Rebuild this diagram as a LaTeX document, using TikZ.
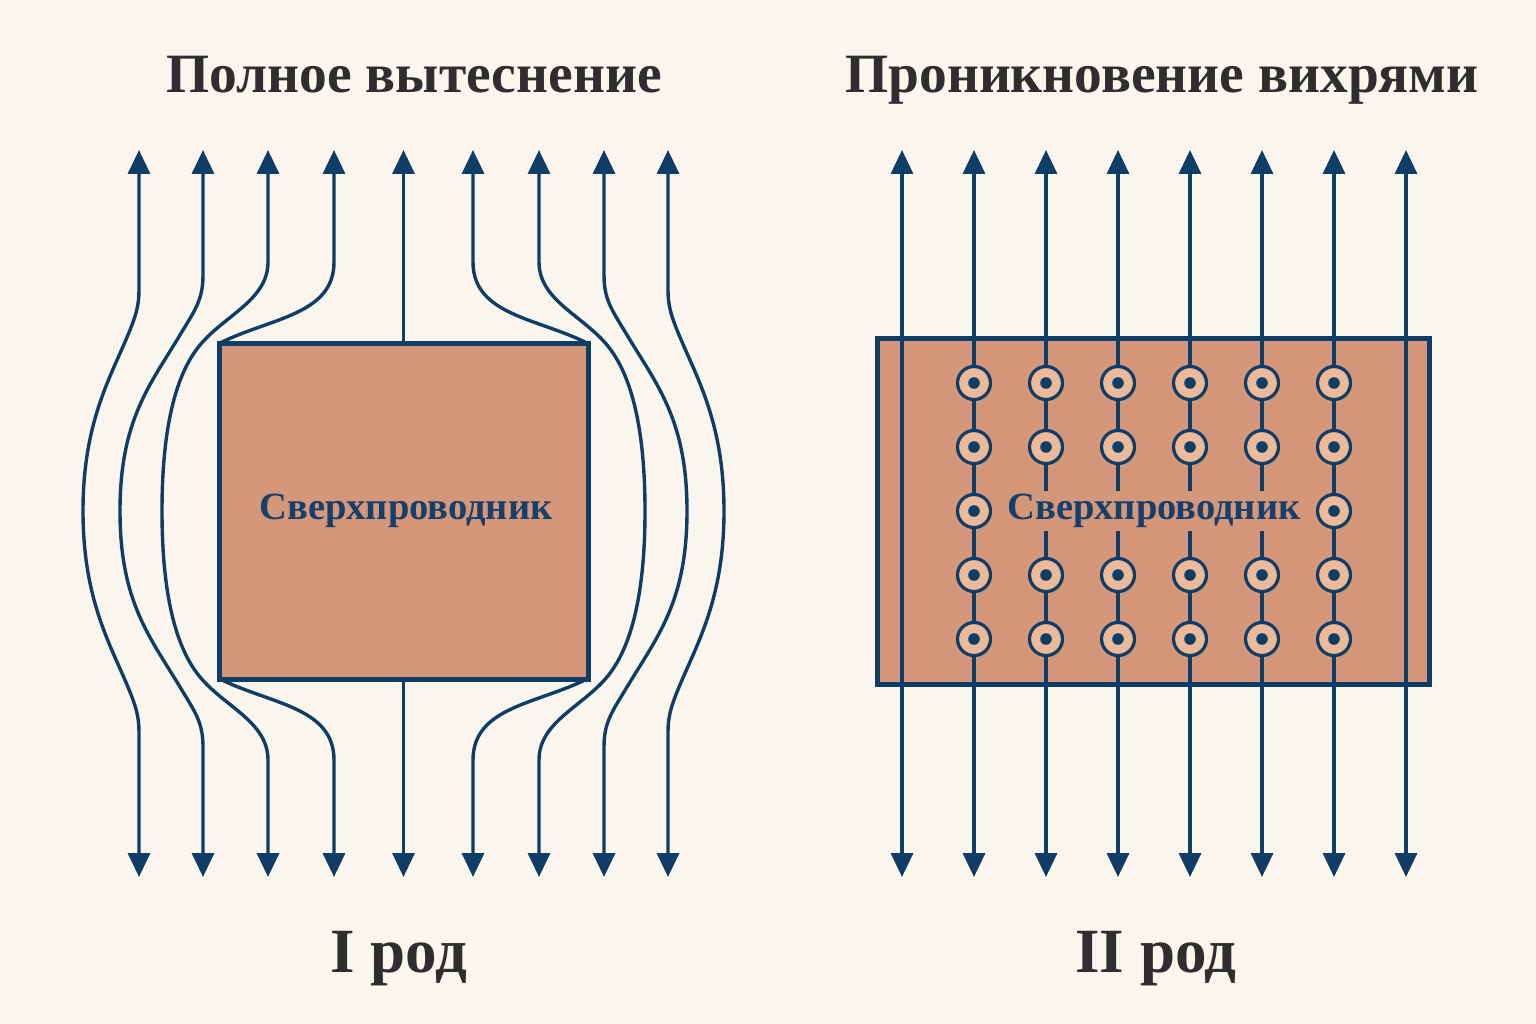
\documentclass[tikz,border=0pt]{standalone}
\usepackage{fontspec}
\setmainfont{Liberation Serif}
\usetikzlibrary{arrows.meta}
\definecolor{bg}{HTML}{FAF6EE}
\definecolor{navy}{HTML}{0F3D66}
\definecolor{scfill}{HTML}{D4977A}
\definecolor{vfill}{HTML}{EBB998}
\definecolor{titlec}{HTML}{2E2E2E}
\definecolor{labelc}{HTML}{173F6B}
\begin{document}
\begin{tikzpicture}[x=1pt,y=-1pt,
  tip/.tip={Triangle[width=22pt,length=24pt]},
  fieldline/.style={draw=navy,line width=3.4pt,tip-tip},
  upline/.style={draw=navy,line width=3.4pt,tip-},
  downline/.style={draw=navy,line width=3.4pt,-tip},
  scbox/.style={draw=navy,fill=scfill,line width=5pt,inner sep=0pt},
  sclabel/.style={text=labelc,font=\bfseries\fontsize{38.5}{42}\selectfont,inner sep=3pt},
  titletext/.style={text=titlec,font=\bfseries\fontsize{55.5}{60}\selectfont,anchor=base,inner sep=0pt},
  rodtext/.style={text=titlec,font=\bfseries\fontsize{63}{66}\selectfont,anchor=base,inner sep=0pt},
  vortex/.style={circle,draw=navy,line width=3.2pt,fill=vfill,minimum size=33pt,inner sep=0pt,
    path picture={\fill[navy] (path picture bounding box.center) circle (5.8pt);}}
]
\fill[bg] (0,0) rectangle (1536,1024);
\useasboundingbox (0,0) rectangle (1536,1024);

% ---------- Titles ----------
\node[titletext] (t1) at (414,93) {Полное вытеснение};
\node[titletext] (t2) at (1162,93) {Проникновение вихрями};
\node[rodtext] (r1) at (399,972) {I род};
\node[rodtext] (r2) at (1156,972) {II род};

% ---------- Type I: field lines (left half, mirrored for right half) ----------
\foreach \sh/\xs in {0/1, 807/-1}{
\begin{scope}[shift={(\sh,0)},xscale=\xs]
\draw[fieldline] (139,150) -- (139,290) .. controls (139,305) and (136,315) .. (130,330)
  .. controls (112,375) and (83,420) .. (83,511)
  .. controls (83,602) and (112,647) .. (130,692)
  .. controls (136,707) and (139,717) .. (139,732) -- (139,877);
\draw[fieldline] (203,150) -- (203,275) .. controls (203,300) and (195,310) .. (180,335)
  .. controls (150,385) and (120,420) .. (120,511)
  .. controls (120,602) and (150,637) .. (180,687)
  .. controls (195,712) and (203,722) .. (203,747) -- (203,877);
\draw[fieldline] (268,150) -- (268,262) .. controls (268,300) and (225,315) .. (200,345)
  .. controls (175,375) and (162,430) .. (162,511)
  .. controls (162,592) and (175,647) .. (200,677)
  .. controls (225,707) and (268,722) .. (268,760) -- (268,877);
\draw[fieldline] (334,150) -- (334,262) .. controls (334,315) and (270,318) .. (220,343)
  -- (220,679) .. controls (270,704) and (334,707) .. (334,760) -- (334,877);
\end{scope}
}
\node[scbox,minimum width=369pt,minimum height=336pt] (sc1) at (403.5,511) {};
\coordinate (top1) at (403.5,150);
\coordinate (bot1) at (403.5,877);
\draw[upline] (top1) -- (sc1.north);
\draw[downline] (sc1.south) -- (bot1);
\node[sclabel] (lab1) at (406,511) {Сверхпроводник};

% ---------- Type II ----------
\node[scbox,minimum width=552pt,minimum height=346pt] (sc2) at (1153,511) {};
\foreach \i in {0,...,7}{
  \coordinate (ft\i) at (902+72*\i,150);
  \coordinate (fb\i) at (902+72*\i,877);
  \draw[fieldline] (ft\i) -- (fb\i);
}
\node[sclabel,fill=scfill] (lab2) at (1154,511) {Сверхпроводник};
\foreach \c in {1,...,6}{
  \foreach \r/\yy in {1/383,2/447,4/575,5/639}{
    \node[vortex] (v\c-\r) at (902+72*\c,\yy) {};
  }
}
\node[vortex] (v1-3) at (974,511) {};
\node[vortex] (v6-3) at (1334,511) {};
\end{tikzpicture}
\end{document}
